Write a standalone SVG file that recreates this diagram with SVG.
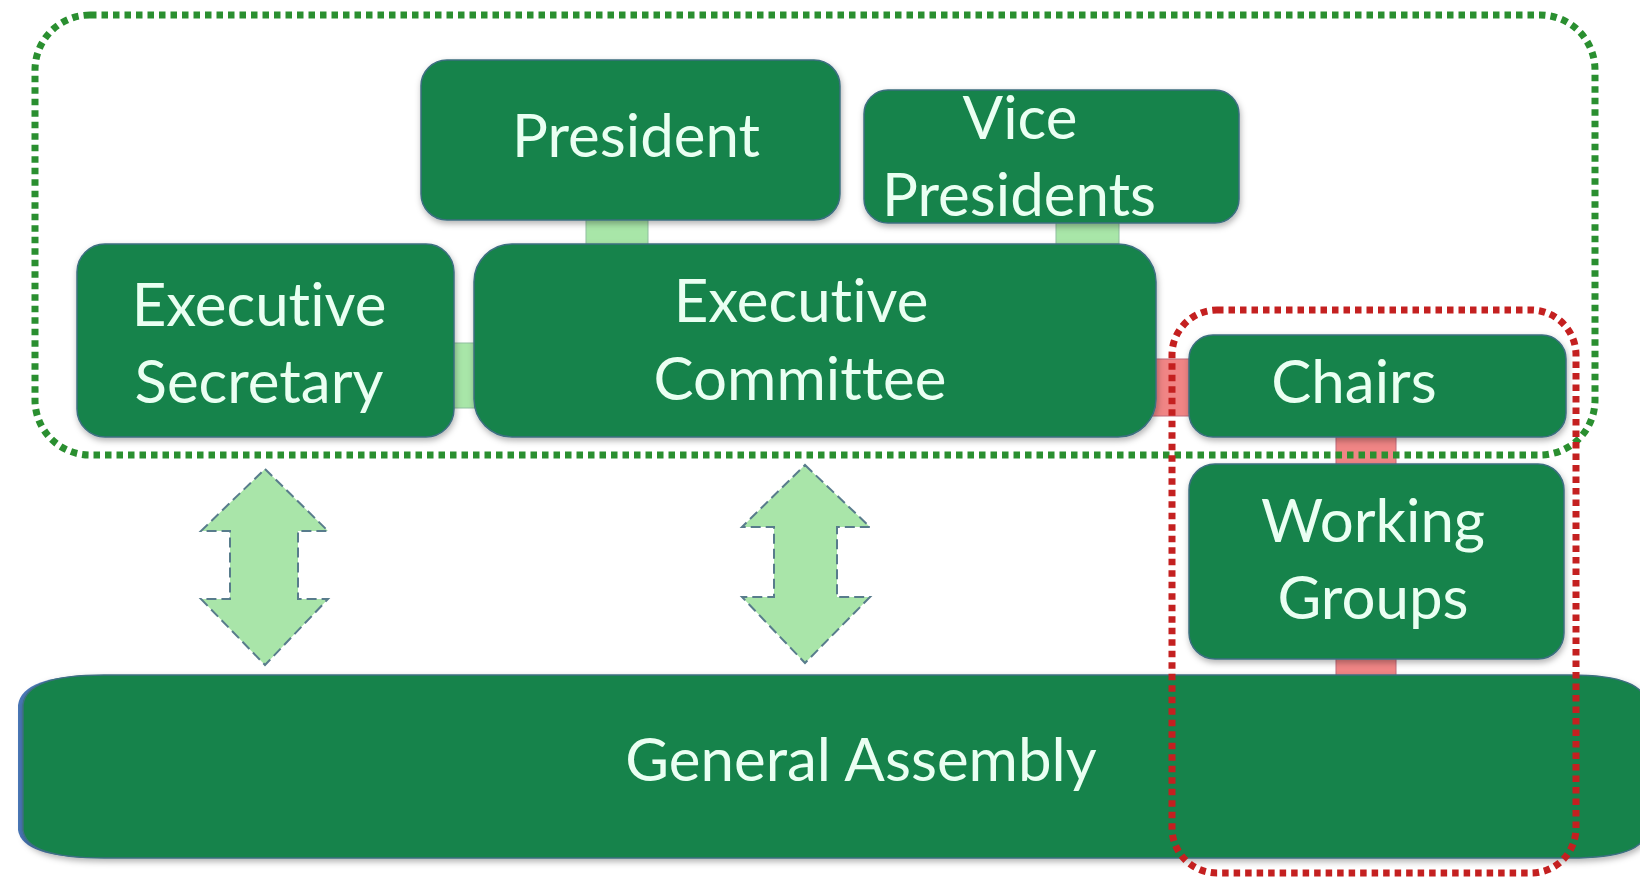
<svg xmlns="http://www.w3.org/2000/svg" width="1640" height="883" viewBox="0 0 1640 883">
<defs>
<filter id="sh" x="-10%" y="-10%" width="120%" height="130%"><feDropShadow dx="1" dy="3" stdDeviation="3" flood-color="#000" flood-opacity="0.3"/></filter>
</defs>
<style>
.box{fill:#17834b;stroke:#3c6f80;stroke-width:1.5;filter:url(#sh)}
.t{font-family:Lato,"Open Sans","Liberation Sans",sans-serif;font-size:60px;fill:#eafff2;text-anchor:middle;font-variant-ligatures:none}
.lg{fill:#a8e6a8;stroke:#8fbfa0;stroke-width:1}
.rd{fill:#f08585;stroke:#c06a7a;stroke-width:1}
.arr{fill:#a9e5a9;stroke:#587c8c;stroke-width:2;stroke-dasharray:10 5}
.dot{fill:none;stroke-width:7;stroke-dasharray:6.5 5}
</style>
<rect width="1640" height="883" fill="#fff"/>
<g id="connectors">
<rect class="lg" x="586" y="214" width="62" height="34"/>
<rect class="lg" x="1056" y="218" width="63" height="30"/>
<rect class="lg" x="450" y="343" width="28" height="65"/>
<rect class="rd" x="1152" y="359" width="40" height="57"/>
<rect class="rd" x="1336" y="432" width="60" height="36"/>
<rect class="rd" x="1336" y="655" width="60" height="24"/>
<path class="arr" d="M265 469 L328 531 L298 531 L298 599 L328 599 L265 665 L201 599 L230 599 L230 531 L201 531 Z"/>
<path class="arr" d="M805 465 L870 527 L837 527 L837 597 L870 597 L805 663 L742 597 L774 597 L774 527 L742 527 Z"/>
</g>
<g id="general-assembly">
<path d="M18 705 Q22 675 100 675 L1570 675 Q1646 675 1646 705 L1646 830 Q1646 858 1570 858 L100 858 Q22 858 18 830 Z" fill="#4a78b8"/>
<path class="box" d="M23 705 Q26 675 104 675 L1570 675 Q1646 675 1646 705 L1646 830 Q1646 858 1570 858 L104 858 Q26 858 23 830 Z" stroke="none"/>
<text class="t" x="861" y="781">General Assembly</text>
</g>
<g id="president">
<rect class="box" x="421" y="60" width="419" height="160" rx="26"/>
<text class="t" x="636" y="157">President</text>
</g>
<g id="vice-presidents">
<rect class="box" x="864" y="90" width="375" height="133" rx="24"/>
<text class="t" x="1020" y="139">Vice</text>
<text class="t" x="1019" y="216">Presidents</text>
</g>
<g id="executive-secretary">
<rect class="box" x="77" y="244" width="377" height="193" rx="28"/>
<text class="t" x="259" y="326">Executive</text>
<text class="t" x="259" y="403">Secretary</text>
</g>
<g id="executive-committee">
<rect class="box" x="474" y="244" width="682" height="193" rx="38"/>
<text class="t" x="801" y="322">Executive</text>
<text class="t" x="800" y="400">Committee</text>
</g>
<g id="chairs">
<rect class="box" x="1189" y="335" width="377" height="102" rx="24"/>
<text class="t" x="1354" y="403">Chairs</text>
</g>
<g id="working-groups">
<rect class="box" x="1189" y="464" width="375" height="195" rx="26"/>
<text class="t" x="1373" y="542">Working</text>
<text class="t" x="1373" y="619">Groups</text>
</g>
<g id="executive-group">
<rect class="dot" x="35" y="15" width="1560" height="440" rx="55" stroke="#2a8f30"/>
</g>
<g id="chairs-group">
<rect class="dot" x="1172" y="310" width="404" height="563" rx="45" stroke="#c42020"/>
</g>
</svg>
